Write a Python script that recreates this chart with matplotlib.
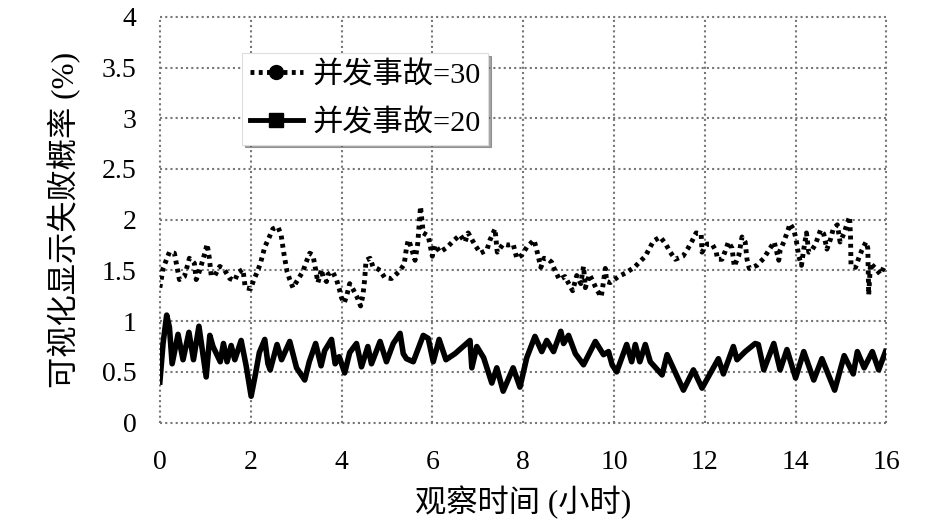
import matplotlib.pyplot as plt
from matplotlib.lines import Line2D

plt.rcParams['font.family'] = ['Liberation Serif', 'Noto Sans CJK SC']

# 并发事故=30 (dotted series)
hours30 = [0, 0.07, 0.21, 0.32, 0.43, 0.54, 0.65, 0.76, 0.80, 0.87, 0.99, 1.04, 1.09, 1.13, 1.21,
           1.32, 1.43, 1.54, 1.65, 1.72, 1.83, 1.88, 2.00, 2.07, 2.15, 2.22, 2.31, 2.40, 2.49, 2.60,
           2.67, 2.73, 2.80, 2.86, 2.93, 3.04, 3.15, 3.22, 3.30, 3.37, 3.41, 3.48, 3.56, 3.59, 3.67,
           3.70, 3.80, 3.89, 3.95, 4.00, 4.06, 4.12, 4.18, 4.26, 4.35, 4.42, 4.47, 4.51, 4.54, 4.63,
           4.69, 4.78, 4.85, 4.95, 5.10, 5.27, 5.38, 5.43, 5.47, 5.51, 5.62, 5.68, 5.74, 5.80, 5.91,
           6.00, 6.06, 6.17, 6.33, 6.46, 6.61, 6.72, 6.79, 6.94, 7.06, 7.20, 7.27, 7.38, 7.43, 7.56,
           7.67, 7.78, 7.86, 7.97, 8.08, 8.24, 8.30, 8.39, 8.46, 8.55, 8.63, 8.70, 8.80, 8.92, 9.09,
           9.18, 9.27, 9.33, 9.37, 9.46, 9.53, 9.62, 9.72, 9.77, 9.81, 9.84, 9.92, 10.10, 10.28, 10.47,
           10.69, 10.87, 11.02, 11.14, 11.24, 11.35, 11.52, 11.62, 11.72, 11.81, 11.92, 11.94, 12.05,
           12.16, 12.25, 12.28, 12.38, 12.45, 12.52, 12.60, 12.65, 12.75, 12.82, 12.89, 12.93, 12.98,
           13.15, 13.30, 13.44, 13.53, 13.63, 13.66, 13.74, 13.81, 13.88, 13.96, 14.01, 14.07, 14.13,
           14.18, 14.24, 14.29, 14.36, 14.44, 14.55, 14.62, 14.69, 14.77, 14.83, 14.92, 14.98, 15.07,
           15.14, 15.19, 15.21, 15.22, 15.32, 15.39, 15.46, 15.55, 15.59, 15.61, 15.65, 15.76, 15.87,
           15.94, 16.0]
fail30 = [1.33, 1.52, 1.68, 1.67, 1.41, 1.44, 1.62, 1.57, 1.41, 1.49, 1.67, 1.76, 1.62, 1.45, 1.45,
          1.54, 1.50, 1.42, 1.40, 1.48, 1.51, 1.33, 1.32, 1.41, 1.49, 1.58, 1.73, 1.82, 1.91, 1.93,
          1.85, 1.67, 1.49, 1.41, 1.33, 1.41, 1.49, 1.58, 1.67, 1.65, 1.56, 1.38, 1.51, 1.44, 1.39,
          1.46, 1.49, 1.41, 1.32, 1.23, 1.18, 1.26, 1.37, 1.31, 1.23, 1.15, 1.25, 1.41, 1.60, 1.62,
          1.54, 1.52, 1.50, 1.43, 1.42, 1.49, 1.56, 1.72, 1.80, 1.76, 1.60, 1.77, 2.13, 1.87, 1.84,
          1.64, 1.75, 1.68, 1.73, 1.79, 1.85, 1.78, 1.87, 1.75, 1.67, 1.70, 1.80, 1.91, 1.68, 1.76,
          1.75, 1.76, 1.62, 1.65, 1.73, 1.80, 1.70, 1.53, 1.62, 1.61, 1.58, 1.50, 1.41, 1.44, 1.30,
          1.45, 1.37, 1.54, 1.33, 1.46, 1.40, 1.31, 1.24, 1.39, 1.52, 1.39, 1.38, 1.44, 1.48, 1.54,
          1.64, 1.79, 1.83, 1.76, 1.68, 1.61, 1.64, 1.71, 1.79, 1.87, 1.86, 1.68, 1.76,
          1.76, 1.69, 1.61, 1.61, 1.69, 1.78, 1.72, 1.54, 1.65, 1.83, 1.78, 1.61, 1.52,
          1.55, 1.62, 1.72, 1.78, 1.60, 1.70, 1.78, 1.87, 1.96, 1.90, 1.81, 1.64, 1.55,
          1.71, 1.87, 1.68, 1.70, 1.76, 1.90, 1.86, 1.71, 1.81, 1.91, 1.95, 1.78, 1.87,
          1.97, 2.03, 1.83, 1.55, 1.53, 1.62, 1.70, 1.78, 1.72, 1.26, 1.57, 1.52, 1.46,
          1.53, 1.50]

# 并发事故=20 (solid series)
hours20 = [0, 0.07, 0.15, 0.21, 0.27, 0.40, 0.51, 0.64, 0.74, 0.86, 1.02, 1.10, 1.17, 1.33, 1.40,
           1.48, 1.57, 1.65, 1.79, 1.90, 2.01, 2.11, 2.19, 2.31, 2.38, 2.43, 2.58, 2.68, 2.86, 3.01,
           3.19, 3.29, 3.43, 3.55, 3.63, 3.78, 3.86, 3.95, 4.07, 4.18, 4.33, 4.44, 4.58, 4.66, 4.85,
           4.99, 5.14, 5.29, 5.36, 5.43, 5.58, 5.80, 5.91, 6.02, 6.15, 6.30, 6.50, 6.83, 6.87, 6.98,
           7.13, 7.31, 7.42, 7.56, 7.78, 7.93, 8.08, 8.26, 8.41, 8.52, 8.67, 8.83, 8.89, 9.00, 9.15,
           9.33, 9.59, 9.77, 9.88, 9.96, 10.06, 10.28, 10.39, 10.47, 10.57, 10.69, 10.80, 11.06, 11.17,
           11.53, 11.75, 11.94, 12.30, 12.41, 12.63, 12.71, 12.89, 13.11, 13.18, 13.30, 13.52, 13.66,
           13.81, 14.00, 14.18, 14.40, 14.58, 14.86, 15.07, 15.27, 15.36, 15.51, 15.69, 15.83, 15.98]
fail20 = [0.40, 0.78, 1.06, 0.94, 0.58, 0.87, 0.62, 0.89, 0.62, 0.95, 0.45, 0.86, 0.75, 0.60, 0.78,
          0.60, 0.76, 0.62, 0.81, 0.56, 0.26, 0.49, 0.69, 0.82, 0.58, 0.52, 0.77, 0.62, 0.80, 0.54,
          0.42, 0.60, 0.78, 0.56, 0.71, 0.82, 0.58, 0.65, 0.49, 0.69, 0.78, 0.55, 0.75, 0.58, 0.80,
          0.60, 0.78, 0.88, 0.68, 0.63, 0.60, 0.86, 0.83, 0.60, 0.82, 0.62, 0.68, 0.81, 0.54, 0.75,
          0.64, 0.39, 0.54, 0.31, 0.54, 0.35, 0.64, 0.85, 0.70, 0.81, 0.70, 0.90, 0.78, 0.86, 0.68,
          0.57, 0.80, 0.67, 0.70, 0.57, 0.50, 0.77, 0.60, 0.77, 0.60, 0.77, 0.60, 0.47, 0.67,
          0.32, 0.52, 0.34, 0.63, 0.48, 0.75, 0.62, 0.70, 0.78, 0.77, 0.52, 0.78, 0.52,
          0.72, 0.44, 0.70, 0.42, 0.63, 0.32, 0.66, 0.48, 0.70, 0.54, 0.70, 0.52, 0.70]

xTicks = [0, 2, 4, 6, 8, 10, 12, 14, 16]
yTicks = [0, 0.5, 1, 1.5, 2, 2.5, 3, 3.5, 4]
yTickLabels = ['0', '0.5', '1', '1.5', '2', '2.5', '3', '3.5', '4']
label30 = '并发事故=30'
label20 = '并发事故=20'

fig = plt.figure(figsize=(9.46, 5.25), dpi=100)
ax = fig.add_axes([0.169, 0.195, 0.768, 0.773])

ax.plot(hours30, fail30, color='black', linewidth=3.5, linestyle=(0, (0.8, 0.9)),
        dash_capstyle='butt', zorder=3)
ax.plot(hours20, fail20, color='black', linewidth=4, solid_joinstyle='round', zorder=3)

ax.set_xlim(0, 16)
ax.set_ylim(0, 4)
ax.set_xticks(xTicks)
ax.set_yticks(yTicks)
ax.set_yticklabels(yTickLabels)
ax.tick_params(length=0, labelsize=20)
ax.tick_params(axis='x', pad=20)
ax.tick_params(axis='y', pad=17)
for s in ax.spines.values():
    s.set_visible(False)
ax.grid(True, color='#777777', linestyle=(0, (1, 1.5)), linewidth=1.5, clip_on=False)

ax.set_xlabel('观察时间 (小时)', fontsize=22.5)
ax.set_ylabel('可视化显示失败概率 (%)', fontsize=22.5)
ax.xaxis.set_label_coords(0.5, -0.155)
ax.yaxis.set_label_coords(-0.108, 0.5)

handles = [
    Line2D([], [], color='black', linewidth=3.5, linestyle=(0, (0.8, 0.9)),
           marker='o', markersize=10),
    Line2D([], [], color='black', linewidth=3.5, marker='s', markersize=9.5),
]
leg = ax.legend(handles, [label30, label20], loc='upper left', bbox_to_anchor=(0.113, 0.91),
                borderaxespad=0, fontsize=21.8, frameon=True, fancybox=False, shadow=True,
                handlelength=1.75, handletextpad=0.33, borderpad=0.25, labelspacing=0.66)
leg.get_frame().set_edgecolor('#dddddd')
leg.get_frame().set_linewidth(0.8)

plt.savefig('out.png', dpi=100)
plt.close()
